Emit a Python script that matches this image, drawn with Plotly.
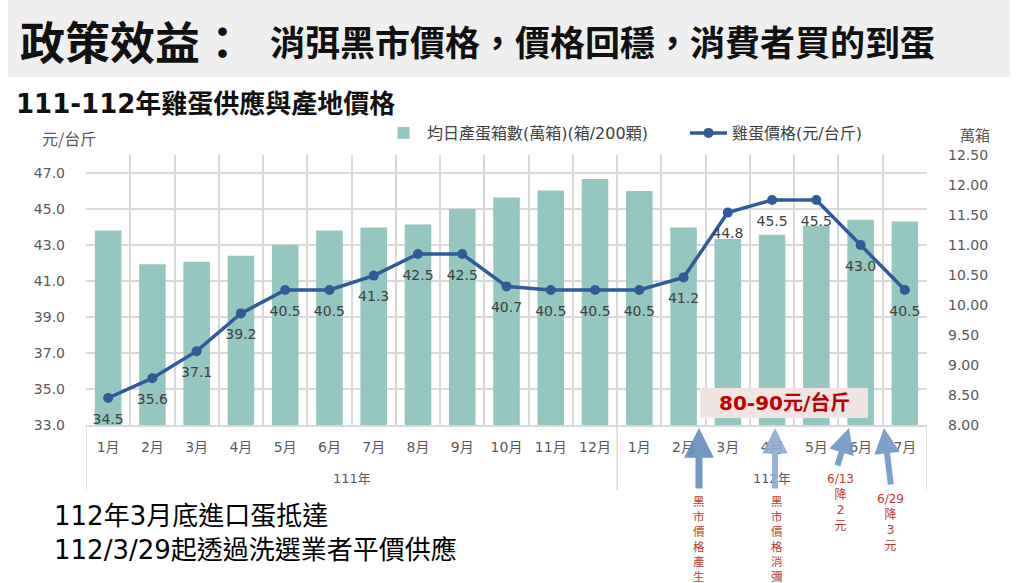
import plotly.graph_objects as go

# ---------------- data ----------------
years = ["111年"] * 12 + ["112年"] * 7
months = ["1月", "2月", "3月", "4月", "5月", "6月", "7月", "8月", "9月", "10月", "11月", "12月",
          "1月", "2月", "3月", "4月", "5月", "6月", "7月"]
daily_boxes = [11.24, 10.68, 10.72, 10.82, 11.00, 11.24, 11.29, 11.34, 11.60, 11.79, 11.91, 12.10,
               11.90, 11.29, 11.10, 11.17, 11.32, 11.42, 11.39]
egg_price = [34.5, 35.6, 37.1, 39.2, 40.5, 40.5, 41.3, 42.5, 42.5, 40.7, 40.5, 40.5,
             40.5, 41.2, 44.8, 45.5, 45.5, 43.0, 40.5]

bar_name = "均日產蛋箱數(萬箱)(箱/200顆)"
line_name = "雞蛋價格(元/台斤)"
title_main = "政策效益："
title_sub = "消弭黑市價格，價格回穩，消費者買的到蛋"
subtitle = "111-112年雞蛋供應與產地價格"
note_lines = ["112年3月底進口蛋抵達", "112/3/29起透過洗選業者平價供應"]
black_market = "80-90元/台斤"
col_text_1 = "黑市價格產生"
col_text_2 = "黑市價格消彌"
cut_1 = ["6/13", "降", "2", "元"]
cut_2 = ["6/29", "降", "3", "元"]

# ---------------- layout geometry ----------------
W, H = 1024, 583
L, R, T, B = 86, 97, 155, 158
PW, PH = W - L - R, H - T - B


def px(x):
    return (x - L) / PW


def py(y):
    return (H - B - y) / PH


FONT = "DejaVu Sans, Noto Sans CJK TC, sans-serif"
CJK = "Noto Sans CJK TC, sans-serif"
TEAL = "#93C7C0"
BLUE = "#2E5C99"
RED = "#C0392B"
GRID = "#D9D9D9"

idx = list(range(len(months)))

fig = go.Figure()
fig.add_trace(go.Bar(
    x=idx, y=daily_boxes, name=bar_name,
    marker=dict(color=TEAL, line=dict(width=0)), width=0.6, yaxis="y",
    customdata=[[y, m] for y, m in zip(years, months)],
    hovertemplate="%{customdata[0]} %{customdata[1]}: %{y:.2f}<extra></extra>",
))
fig.add_trace(go.Scatter(
    x=idx, y=egg_price, name=line_name, yaxis="y2",
    mode="lines+markers",
    line=dict(color=BLUE, width=3.5),
    marker=dict(color=BLUE, size=10),
    customdata=[[y, m] for y, m in zip(years, months)],
    hovertemplate="%{customdata[0]} %{customdata[1]}: %{y:.1f}<extra></extra>",
))
# value labels under the points
fig.add_trace(go.Scatter(
    x=idx, y=egg_price, yaxis="y2", mode="markers+text", showlegend=False, hoverinfo="skip",
    marker=dict(size=23, color="rgba(0,0,0,0)"), cliponaxis=False,
    text=[f"{v:.1f}" for v in egg_price], textposition="bottom center",
    textfont=dict(family=FONT, size=14, color="#404040"),
))

# year groups: dividers and centered labels
groups = []
for i, y in enumerate(years):
    if not groups or groups[-1][0] != y:
        groups.append([y, i, i])
    else:
        groups[-1][2] = i

shapes = [
    dict(type="rect", xref="paper", yref="paper", x0=px(8), x1=px(1010), y0=py(77), y1=py(0),
         fillcolor="#EFEFEF", line=dict(width=0), layer="below"),
    dict(type="rect", xref="paper", yref="paper", x0=px(700), x1=px(868), y0=py(418), y1=py(388),
         fillcolor="#EFE4E2", line=dict(width=0), layer="above"),
]
bounds = [groups[0][1] - 0.5] + [g[2] + 0.5 for g in groups]
for b in bounds:
    shapes.append(dict(type="line", xref="x", yref="paper", x0=b, x1=b, y0=py(490), y1=0,
                       line=dict(color=GRID, width=1.5), layer="below"))

ann = []


def text(x, y, s, size, color="#000", anchor="left", bold=False, family=CJK):
    ann.append(dict(xref="paper", yref="paper", x=px(x), y=py(y), text=f"<b>{s}</b>" if bold else s,
                    showarrow=False, xanchor=anchor, yanchor="middle",
                    font=dict(family=family, size=size, color=color)))


for g in groups:
    ann.append(dict(xref="x", yref="paper", x=(g[1] + g[2]) / 2, y=py(478), text=g[0],
                    showarrow=False, xanchor="center", yanchor="middle",
                    font=dict(family=FONT, size=13, color="#595959")))

text(18, 40, title_main, 45, "#111", bold=True)
text(268, 41, title_sub, 35, "#111", bold=True)
text(14, 104, subtitle, 26, "#111", bold=True, family=FONT)
text(40, 138, "元/台斤", 16, "#595959")
text(958, 134, "萬箱", 15, "#595959")
text(784, 403, black_market, 20, "#C00000", anchor="center", bold=True, family=FONT)
ann.append(dict(xref="paper", yref="paper", x=px(52), y=py(533), text="<br>".join(note_lines),
                showarrow=False, xanchor="left", yanchor="middle", align="left",
                font=dict(family=FONT, size=26, color="#000")))

# arrows
for hx, hy, tx, ty, col, w in [(699, 428, 699, 490, "rgba(98,140,188,0.9)", 7),
                                (775, 428, 775, 490, "rgba(140,172,208,0.9)", 6),
                                (849, 428, 837, 467, "rgba(110,150,196,0.9)", 6),
                                (884, 428, 891, 486, "rgba(110,150,196,0.9)", 6)]:
    ann.append(dict(xref="paper", yref="paper", x=px(hx), y=py(hy), ax=tx - hx, ay=ty - hy,
                    text="", showarrow=True, arrowhead=2, arrowsize=0.85, arrowwidth=w,
                    arrowcolor=col, standoff=0, startstandoff=0))


def column(x, ytop, items, size, family):
    ann.append(dict(xref="paper", yref="paper", x=px(x), y=py(ytop), text="<br>".join(items),
                    showarrow=False, xanchor="center", yanchor="top", align="center",
                    font=dict(family=family, size=size, color=RED)))


column(699, 491, list(col_text_1), 11.5, CJK)
column(777, 491, list(col_text_2), 11.5, CJK)
column(840, 470, cut_1, 12, FONT)
column(890, 490, cut_2, 12, FONT)

fig.update_layout(
    width=W, height=H,
    margin=dict(l=L, r=R, t=T, b=B, pad=0),
    paper_bgcolor="white", plot_bgcolor="white",
    font=dict(family=FONT, size=14, color="#595959"),
    showlegend=True,
    legend=dict(orientation="h", x=px(380), y=py(133), xanchor="left", yanchor="middle",
                itemwidth=37, entrywidth=253, entrywidthmode="pixels",
                font=dict(family=FONT, size=16, color="#404040"), bgcolor="rgba(0,0,0,0)"),
    xaxis=dict(range=[-0.5, len(months) - 0.5], tickmode="array", tickvals=idx, ticktext=months,
               showgrid=False, zeroline=False, showline=True, linecolor=GRID, linewidth=1.5,
               ticks="", ticklabelstandoff=8,
               tickfont=dict(family=FONT, size=14, color="#595959"),
               minor=dict(tick0=-0.5, dtick=1, showgrid=True, gridcolor=GRID, gridwidth=1.5, ticks="")),
    yaxis=dict(side="right", range=[8, 12.5], dtick=0.5, tick0=8, tickformat=".2f",
               showgrid=False, zeroline=False, ticklabelstandoff=20,
               tickfont=dict(family=FONT, size=14, color="#595959")),
    yaxis2=dict(side="left", overlaying="y", range=[33, 48], tick0=33, dtick=2, tickformat=".1f",
                showgrid=True, gridcolor=GRID, gridwidth=1.5, zeroline=False, ticklabelstandoff=20,
                tickfont=dict(family=FONT, size=14, color="#595959")),
    shapes=shapes, annotations=ann, bargap=0.4, hovermode="closest",
)

fig.write_html("out.html")
